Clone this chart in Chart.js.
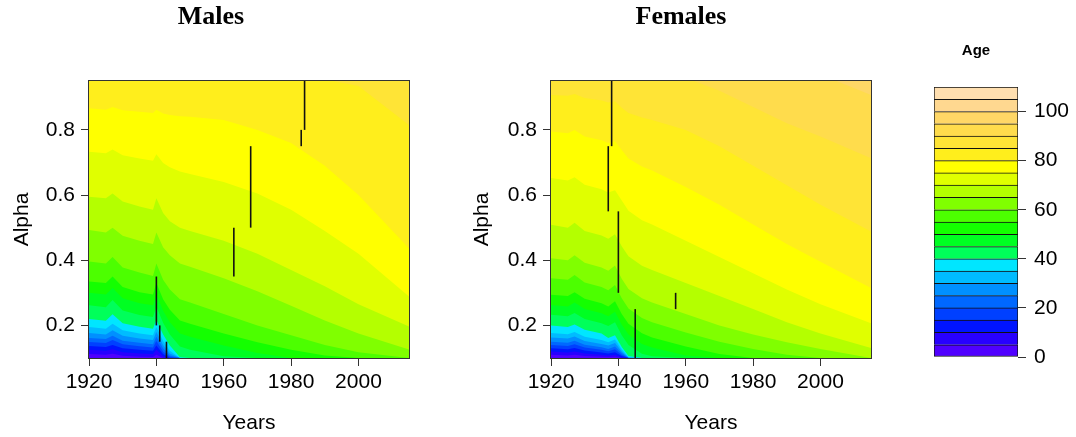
<!DOCTYPE html>
<html>
<head>
<meta charset="utf-8">
<script src="https://cdn.jsdelivr.net/npm/chart.js@4.4.1/dist/chart.umd.min.js"></script>
<style>
  body { margin: 0; background: #fff; }
  #wrap { position: relative; width: 1076px; height: 437px; overflow: hidden; }
  .panel { position: absolute; top: 0; }
</style>
</head>
<body>
<div id="wrap">
  <canvas id="chartMales" class="panel" style="left:0px" width="422" height="437"></canvas>
  <canvas id="chartFemales" class="panel" style="left:460px" width="442" height="437"></canvas>
  <canvas id="chartAge" class="panel" style="left:876px" width="200" height="437"></canvas>
</div>
<script>
// contour levels (age) and the colour of each band between two levels
const ageLevels = [0, 5, 10, 15, 20, 25, 30, 35, 40, 45, 50, 55, 60, 65, 70, 75, 80, 85, 90, 95, 100, 105, 110];
const bandColors = [
  '#5000FF', '#2800FF', '#0014FF', '#0040FF', '#0068FF', '#0090FF', '#00BCFF', '#00E6FF',
  '#00FF5A', '#00FF22', '#14FF00', '#4CFF00', '#80FF00', '#B4FF00', '#E0FF00', '#FFFF00',
  '#FFEE1C', '#FFE436', '#FFDC4C', '#FFD766', '#FFD890', '#FFDFB0'
];
const yearTicks = [1920, 1940, 1960, 1980, 2000];
const alphaTicks = [0.2, 0.4, 0.6, 0.8];
const ageTicks = [0, 20, 40, 60, 80, 100];

// Males: alpha at which each age level (5, 10, ... 105) is reached, per year column
const malesYears = [1920, 1925, 1927, 1930, 1935, 1939, 1940, 1942, 1944, 1947, 1950, 1960, 1970, 1980, 1990, 2000, 2015];
const malesContours = [
  [.112, .110, .113, .107, .104, .103, .110, .100, .100, .100, .100, .100, .100, .100, .100, .100, .100], // 5
  [.125, .122, .127, .118, .114, .112, .125, .105, .100, .100, .100, .100, .100, .100, .100, .100, .100], // 10
  [.137, .134, .140, .130, .125, .122, .138, .112, .100, .100, .100, .100, .100, .100, .100, .100, .100], // 15
  [.149, .146, .155, .142, .136, .132, .152, .120, .104, .100, .100, .100, .100, .100, .100, .100, .100], // 20
  [.161, .158, .168, .153, .147, .142, .165, .130, .108, .100, .100, .100, .100, .100, .100, .100, .100], // 25
  [.177, .172, .185, .168, .160, .155, .180, .140, .114, .100, .100, .100, .100, .100, .100, .100, .100], // 30
  [.195, .190, .205, .185, .175, .170, .195, .152, .122, .100, .100, .100, .100, .100, .100, .100, .100], // 35
  [.220, .214, .234, .207, .196, .190, .217, .172, .138, .102, .100, .100, .100, .100, .100, .100, .100], // 40
  [.262, .256, .278, .246, .232, .226, .258, .208, .172, .135, .125, .105, .100, .100, .100, .100, .100], // 45
  [.300, .295, .315, .283, .268, .262, .295, .245, .210, .175, .165, .138, .115, .100, .100, .100, .100], // 50
  [.335, .330, .350, .318, .302, .295, .330, .280, .248, .215, .205, .175, .148, .125, .108, .100, .100], // 55
  [.396, .390, .410, .378, .362, .352, .390, .340, .310, .280, .270, .235, .200, .170, .140, .118, .100], // 60
  [.493, .485, .500, .475, .460, .450, .485, .440, .415, .390, .380, .345, .305, .260, .215, .175, .126], // 65
  [.595, .590, .605, .580, .565, .555, .590, .545, .520, .500, .490, .460, .420, .370, .320, .265, .197], // 70
  [.733, .728, .740, .722, .712, .705, .725, .698, .685, .672, .665, .640, .605, .555, .490, .420, .289], // 75
  [.866, .862, .870, .860, .856, .852, .862, .850, .846, .842, .840, .830, .800, .760, .690, .600, .437], // 80
  [.960, .955, .960, .955, .955, .955, .958, .955, .955, .955, .955, .955, .955, .955, .955, .935, .815], // 85
  [1, 1, 1, 1, 1, 1, 1, 1, 1, 1, 1, 1, 1, 1, 1, 1, 1], // 90
  [1, 1, 1, 1, 1, 1, 1, 1, 1, 1, 1, 1, 1, 1, 1, 1, 1], // 95
  [1, 1, 1, 1, 1, 1, 1, 1, 1, 1, 1, 1, 1, 1, 1, 1, 1], // 100
  [1, 1, 1, 1, 1, 1, 1, 1, 1, 1, 1, 1, 1, 1, 1, 1, 1]  // 105
];
// vertical marks: [year, alpha from, alpha to]
const malesBreaks = [[1940, 0.20, 0.35], [1941, 0.15, 0.20], [1943, 0.10, 0.15], [1963, 0.35, 0.50], [1968, 0.50, 0.75], [1983, 0.75, 0.80], [1984, 0.80, 0.95]];

// Females
const femalesYears = [1920, 1925, 1927, 1930, 1935, 1937, 1939, 1941, 1943, 1947, 1950, 1960, 1970, 1980, 1990, 2000, 2015];
const femalesContours = [
  [.110, .108, .110, .106, .104, .103, .104, .100, .100, .100, .100, .100, .100, .100, .100, .100, .100], // 5
  [.120, .117, .120, .114, .110, .108, .110, .102, .100, .100, .100, .100, .100, .100, .100, .100, .100], // 10
  [.130, .127, .131, .123, .117, .114, .118, .106, .100, .100, .100, .100, .100, .100, .100, .100, .100], // 15
  [.140, .137, .142, .132, .125, .121, .127, .110, .100, .100, .100, .100, .100, .100, .100, .100, .100], // 20
  [.150, .147, .153, .141, .133, .128, .135, .115, .100, .100, .100, .100, .100, .100, .100, .100, .100], // 25
  [.163, .160, .166, .152, .143, .138, .146, .120, .101, .100, .100, .100, .100, .100, .100, .100, .100], // 30
  [.177, .173, .180, .165, .155, .148, .157, .126, .103, .100, .100, .100, .100, .100, .100, .100, .100], // 35
  [.200, .195, .203, .187, .175, .161, .170, .134, .106, .100, .100, .100, .100, .100, .100, .100, .100], // 40
  [.233, .228, .238, .220, .207, .198, .210, .170, .140, .113, .105, .100, .100, .100, .100, .100, .100], // 45
  [.263, .258, .270, .250, .237, .228, .242, .202, .172, .143, .132, .108, .100, .100, .100, .100, .100], // 50
  [.294, .290, .302, .282, .268, .258, .274, .235, .205, .176, .163, .135, .112, .100, .100, .100, .100], // 55
  [.345, .340, .355, .332, .318, .308, .324, .283, .252, .223, .210, .178, .150, .128, .110, .100, .100], // 60
  [.406, .400, .415, .392, .378, .368, .384, .343, .312, .283, .270, .235, .200, .172, .148, .128, .100], // 65
  [.509, .500, .515, .490, .476, .466, .480, .443, .412, .383, .370, .330, .290, .250, .210, .175, .131], // 70
  [.652, .645, .655, .632, .618, .608, .615, .583, .552, .523, .510, .460, .410, .360, .310, .265, .207], // 75
  [.795, .790, .800, .780, .768, .760, .765, .738, .712, .688, .675, .625, .570, .510, .450, .395, .315], // 80
  [.907, .905, .910, .898, .890, .884, .888, .868, .852, .838, .830, .800, .750, .690, .630, .570, .488], // 85
  [1, 1, 1, 1, 1, 1, 1, 1, 1, .990, .985, .960, .920, .870, .820, .780, .713], // 90
  [1, 1, 1, 1, 1, 1, 1, 1, 1, 1, 1, 1, 1, 1, .990, .970, .907], // 95
  [1, 1, 1, 1, 1, 1, 1, 1, 1, 1, 1, 1, 1, 1, 1, 1, 1], // 100
  [1, 1, 1, 1, 1, 1, 1, 1, 1, 1, 1, 1, 1, 1, 1, 1, 1]  // 105
];
const femalesBreaks = [[1938, 0.75, 0.95], [1937, 0.55, 0.75], [1940, 0.30, 0.55], [1945, 0.10, 0.25], [1957, 0.25, 0.30]];

Chart.defaults.font.family = "'Liberation Sans', Arial, sans-serif";
Chart.defaults.color = '#000';

const axisFont = { size: 21 };
const tickGrid = { drawOnChartArea: false, drawTicks: true, tickLength: 8, color: '#333', lineWidth: 1 };

// box around the plot region, like R's box()
const plotBox = {
  id: 'plotBox',
  afterDatasetsDraw(chart) {
    const { ctx, chartArea: a } = chart;
    ctx.save();
    ctx.strokeStyle = '#333';
    ctx.lineWidth = 1;
    ctx.strokeRect(Math.round(a.left) - 0.5, Math.round(a.top) - 0.5, Math.round(a.right - a.left) + 1, Math.round(a.bottom - a.top) + 1);
    ctx.restore();
  }
};

function contourDatasets(years, contours, breaks) {
  const sets = [];
  breaks.forEach(b => {
    sets.push({
      data: [{ x: b[0], y: b[1] }, { x: b[0], y: b[2] }],
      borderColor: '#111', borderWidth: 1.6, pointRadius: 0, fill: false, order: 0
    });
  });
  // painter's order: the highest level is drawn first, each lower band on top of it
  contours.forEach((row, i) => {
    sets.push({
      data: row.map((a, j) => ({ x: years[j], y: a })),
      borderColor: 'rgba(0,0,0,0)', borderWidth: 0, pointRadius: 0,
      fill: 'start', backgroundColor: bandColors[i], order: i + 1
    });
  });
  return sets;
}

function drawPanel(id, title, years, contours, breaks, leftWidth, rightWidth) {
  new Chart(document.getElementById(id), {
    type: 'line',
    data: { datasets: contourDatasets(years, contours, breaks) },
    options: {
      responsive: false, animation: false,
      plugins: {
        legend: { display: false }, tooltip: { enabled: false },
        title: {
          display: true, text: title, color: '#000',
          font: { family: "'Liberation Serif', 'Times New Roman', serif", size: 26, weight: 'bold' },
          padding: { top: 2, bottom: 47.8 }
        }
      },
      scales: {
        x: {
          type: 'linear', min: 1920, max: 2015,
          afterBuildTicks: s => { s.ticks = yearTicks.map(v => ({ value: v })); },
          afterFit: s => { s.height = 79; },
          grid: tickGrid, border: { display: false },
          ticks: { font: axisFont, padding: 4, maxRotation: 0, autoSkip: false, callback: v => String(v) },
          title: { display: true, text: 'Years', font: axisFont, padding: { top: 0, bottom: 1 } }
        },
        y: {
          type: 'linear', min: 0.1, max: 0.95,
          afterBuildTicks: s => { s.ticks = alphaTicks.map(v => ({ value: v })); },
          afterFit: s => { s.width = leftWidth; },
          grid: tickGrid, border: { display: false },
          ticks: { font: axisFont, padding: 6, callback: v => v.toFixed(1) },
          title: { display: true, text: 'Alpha', font: axisFont, padding: { top: 10, bottom: 0 } }
        },
        yR: {
          position: 'right', display: true,
          grid: { display: false }, border: { display: false }, ticks: { display: false },
          afterFit: s => { s.width = rightWidth; }
        }
      }
    },
    plugins: [plotBox]
  });
}

drawPanel('chartMales', 'Males', malesYears, malesContours, malesBreaks, 89, 13);
drawPanel('chartFemales', 'Females', femalesYears, femalesContours, femalesBreaks, 91, 31);

// colour key
new Chart(document.getElementById('chartAge'), {
  type: 'bar',
  data: {
    labels: ['Age'],
    datasets: bandColors.map((c, i) => ({
      data: [[ageLevels[i], ageLevels[i + 1]]],
      backgroundColor: c, borderColor: '#111',
      borderWidth: { top: 1, left: 1, right: 1, bottom: i === 0 ? 1 : 0 },
      borderSkipped: false, barPercentage: 1, categoryPercentage: 1, grouped: false
    }))
  },
  options: {
    responsive: false, animation: false,
    layout: { padding: { bottom: 80 } },
    plugins: {
      legend: { display: false }, tooltip: { enabled: false },
      title: {
        display: true, text: 'Age', color: '#000',
        font: { size: 15, weight: 'bold' },
        padding: { top: 42, bottom: 27 }
      }
    },
    scales: {
      x: { display: false },
      y: {
        position: 'right', min: 0, max: 110,
        afterBuildTicks: s => { s.ticks = ageTicks.map(v => ({ value: v })); },
        afterFit: s => { s.width = 58; },
        grid: tickGrid, border: { display: false },
        ticks: { font: axisFont, padding: 8 }
      },
      yL: {
        position: 'left', display: true,
        grid: { display: false }, border: { display: false }, ticks: { display: false },
        afterFit: s => { s.width = 58; }
      }
    }
  }
});
</script>
</body>
</html>
